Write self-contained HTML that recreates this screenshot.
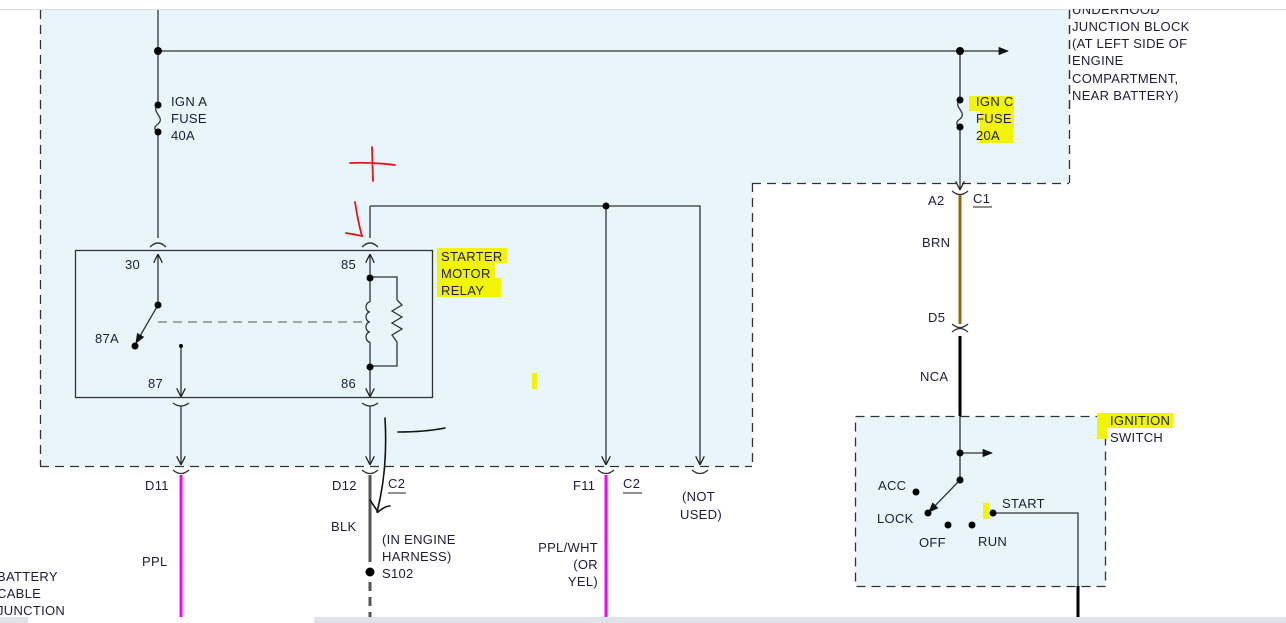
<!DOCTYPE html>
<html><head><meta charset="utf-8"><style>
html,body{margin:0;padding:0;background:#fff;width:1286px;height:623px;overflow:hidden}
svg{display:block}
text{font-family:"Liberation Sans",sans-serif;font-size:13px;fill:#1c1c38;letter-spacing:0.3px}
</style></head><body>
<svg width="1286" height="623" viewBox="0 0 1286 623" xmlns="http://www.w3.org/2000/svg">
<defs>
<marker id="ah" viewBox="0 0 10 10" refX="9" refY="5" markerWidth="7" markerHeight="7" orient="auto"><path d="M0,0 L10,5 L0,10" fill="none" stroke="#222" stroke-width="1.4"/></marker>
<marker id="af" viewBox="0 0 10 10" refX="9" refY="5" markerWidth="8" markerHeight="8" orient="auto"><path d="M0,1 L10,5 L0,9z" fill="#111"/></marker>
</defs>
<!-- top border -->
<line x1="0" y1="9.5" x2="1286" y2="9.5" stroke="#d8dde2" stroke-width="1"/>
<!-- blue region -->
<polygon points="40,10 1069,10 1069,183 752,183 752,466 40,466" fill="#e8f6fc"/>
<g stroke="#333" stroke-width="1.3" stroke-dasharray="9,6" fill="none">
<line x1="40.5" y1="10" x2="40.5" y2="466"/>
<line x1="40" y1="466.5" x2="752" y2="466.5"/>
<line x1="752.5" y1="183" x2="752.5" y2="466"/>
<line x1="752" y1="183.5" x2="1069" y2="183.5"/>
<line x1="1069.5" y1="10" x2="1069.5" y2="183"/>
<rect x="855.5" y="416.5" width="250" height="170" fill="#e8f6fc"/>
</g>
<!-- bottom bar -->
<rect x="0" y="617" width="1286" height="6" fill="#dfe3e8"/>
<rect x="28" y="617" width="286" height="6" fill="#fff"/>
<g stroke="#333" stroke-width="1.3" fill="none">
<!-- main vertical -->
<line x1="158" y1="10" x2="158" y2="105"/>
<path d="M158,105 C150,112 166,117 158,124 C152,128 156,131 158,132"/>
<line x1="158" y1="132" x2="158" y2="238"/>
<line x1="158" y1="51" x2="1008" y2="51" marker-end="url(#af)"/>
<!-- relay box -->
<rect x="75.5" y="250.5" width="357" height="147"/>
<path d="M150,247 Q158,239 166,247"/>
<path d="M362,247 Q370,239 378,247"/>
<line x1="158" y1="305" x2="158" y2="255" marker-end="url(#ah)"/>
<line x1="158" y1="305" x2="136" y2="343" marker-end="url(#af)"/>
<line x1="158" y1="322" x2="366" y2="322" stroke-dasharray="9,6" stroke="#555" stroke-width="1"/>
<line x1="181" y1="346" x2="181" y2="396" marker-end="url(#ah)"/>
<line x1="370" y1="206" x2="370" y2="238"/>
<line x1="370" y1="277" x2="370" y2="255" marker-end="url(#ah)"/>
<path d="M370,277 H397 V300 M397,342 V366 H370"/>
<path d="M397,300 L402,305 L392,311 L402,317 L392,323 L402,329 L392,335 L397,342"/>
<line x1="370" y1="277" x2="370" y2="302"/>
<path d="M370,302 a4,5 0 1 0 0,10 a4,5 0 1 0 0,10 a4,5 0 1 0 0,10 a4,5 0 1 0 0,10"/>
<line x1="370" y1="342" x2="370" y2="396" marker-end="url(#ah)"/>
<!-- cups under box -->
<path d="M173,403 Q181,409 189,403"/>
<path d="M362,403 Q370,409 378,403"/>
<line x1="181" y1="406" x2="181" y2="464" marker-end="url(#ah)"/>
<line x1="370" y1="406" x2="370" y2="464" marker-end="url(#ah)"/>
<!-- wire to F11 / not used -->
<path d="M370,206 H700 V464" marker-end="url(#ah)"/>
<line x1="606" y1="206" x2="606" y2="464" marker-end="url(#ah)"/>
<path d="M173,470 Q181,477 189,470"/>
<path d="M362,470 Q370,477 378,470"/>
<path d="M598,470 Q606,477 614,470"/>
<path d="M692,470 Q700,477 708,470"/>
<!-- right side -->
<line x1="960" y1="51" x2="960" y2="100"/>
<path d="M960,100 C952,107 968,112 960,119 C954,123 958,126 960,127"/>
<line x1="960" y1="127" x2="960" y2="189" marker-end="url(#ah)"/>
<path d="M952,191 Q960,198 968,191"/>
<path d="M952,324 Q960,331 968,324"/>
<path d="M952,332 Q960,325 968,332"/>
<line x1="1110" y1="425" x2="1110" y2="425"/>
<!-- ignition -->
<line x1="960" y1="416" x2="960" y2="480"/>
<line x1="960" y1="453" x2="992" y2="453" marker-end="url(#af)"/>
<line x1="960" y1="480" x2="929" y2="512" marker-end="url(#af)"/>
<path d="M993,513 H1078 V586"/>
</g>
<!-- colored wires -->
<line x1="181" y1="475" x2="181" y2="617" stroke="#ff00ff" stroke-width="3"/>
<line x1="606" y1="475" x2="606" y2="617" stroke="#ff00ff" stroke-width="3"/>
<line x1="370" y1="475" x2="370" y2="562" stroke="#555" stroke-width="3"/>
<line x1="370" y1="582" x2="370" y2="617" stroke="#555" stroke-width="3" stroke-dasharray="9,6"/>
<line x1="960" y1="195" x2="960" y2="324" stroke="#8b6a14" stroke-width="3"/>
<line x1="960" y1="336" x2="960" y2="416" stroke="#000" stroke-width="3"/>
<line x1="1078" y1="586" x2="1078" y2="617" stroke="#000" stroke-width="3"/>
<!-- dots -->
<g fill="#000">
<circle cx="158" cy="51" r="4"/><circle cx="960" cy="51" r="4"/>
<circle cx="158" cy="105" r="3.5"/><circle cx="158" cy="132" r="3.5"/>
<circle cx="960" cy="100" r="3.5"/><circle cx="960" cy="127" r="3.5"/>
<circle cx="158" cy="305" r="3.5"/><circle cx="135" cy="346" r="3.5"/>
<circle cx="181" cy="346" r="2"/>
<circle cx="370" cy="278" r="3.5"/><circle cx="370" cy="367" r="3.5"/>
<circle cx="606" cy="206" r="3.5"/><circle cx="370" cy="572" r="4.5"/>
<circle cx="960" cy="453" r="3.5"/><circle cx="960" cy="480" r="3.5"/>
<circle cx="928" cy="513" r="3.5"/><circle cx="916" cy="492" r="3.5"/>
<circle cx="948" cy="525" r="3.5"/><circle cx="972" cy="525" r="3.5"/>
<circle cx="993" cy="513" r="3.5"/>
</g>
<!-- highlights -->
<g fill="#f2f500">
<rect x="437" y="248" width="70" height="15"/><rect x="437" y="263" width="58" height="15"/><rect x="437" y="278" width="64" height="19"/>
<rect x="969" y="96" width="45" height="15"/><rect x="980" y="111" width="34" height="18"/><rect x="980" y="127" width="33" height="16"/>
<rect x="1097" y="413" width="76" height="15"/><rect x="1097" y="424" width="10" height="15"/>
<rect x="532" y="373" width="5" height="16"/><rect x="983" y="503" width="6" height="16"/>
</g>
<!-- text -->
<text x="171" y="106">IGN A</text><text x="171" y="123">FUSE</text><text x="171" y="140">40A</text>
<text x="976" y="106">IGN C</text><text x="976" y="123">FUSE</text><text x="976" y="140">20A</text>
<text x="441" y="261">STARTER</text><text x="441" y="278">MOTOR</text><text x="441" y="295">RELAY</text>
<text x="125" y="269">30</text><text x="341" y="269">85</text>
<text x="95" y="343">87A</text><text x="148" y="388">87</text><text x="341" y="388">86</text>
<text x="145" y="490">D11</text><text x="332" y="490">D12</text>
<text x="388" y="488">C2</text><line x1="388" y1="493" x2="406" y2="493" stroke="#222"/>
<text x="573" y="490">F11</text>
<text x="623" y="488">C2</text><line x1="623" y1="493" x2="642" y2="493" stroke="#222"/>
<text x="682" y="501">(NOT</text><text x="680" y="519">USED)</text>
<text x="331" y="531">BLK</text><text x="142" y="566">PPL</text>
<text x="382" y="544">(IN ENGINE</text><text x="382" y="561">HARNESS)</text><text x="382" y="578">S102</text>
<text x="598" y="552" text-anchor="end">PPL/WHT</text><text x="598" y="569" text-anchor="end">(OR</text><text x="598" y="586" text-anchor="end">YEL)</text>
<text x="-3" y="581">BATTERY</text><text x="-3" y="598">CABLE</text><text x="-3" y="615">JUNCTION</text>
<text x="928" y="205">A2</text>
<text x="973" y="203">C1</text><line x1="973" y1="207" x2="992" y2="207" stroke="#222"/>
<text x="922" y="247">BRN</text><text x="928" y="322">D5</text><text x="920" y="381">NCA</text>
<text x="1072" y="14">UNDERHOOD</text>
<text x="1072" y="31">JUNCTION BLOCK</text><text x="1072" y="48">(AT LEFT SIDE OF</text>
<text x="1072" y="65">ENGINE</text><text x="1072" y="83">COMPARTMENT,</text><text x="1072" y="100">NEAR BATTERY)</text>
<rect x="1070" y="0" width="150" height="9" fill="#fff"/>
<line x1="1069.5" y1="10" x2="1069.5" y2="110" stroke="#333" stroke-width="1.3" stroke-dasharray="9,6"/>
<text x="1110" y="425">IGNITION</text><text x="1110" y="442">SWITCH</text>
<text x="878" y="490">ACC</text><text x="877" y="523">LOCK</text><text x="919" y="547">OFF</text>
<text x="978" y="546">RUN</text><text x="1002" y="508">START</text>
<!-- annotations -->
<g fill="none" stroke-linecap="round">
<path d="M350,163 Q372,162 395,165 M372,147 L373,181" stroke="#e8101a" stroke-width="1.8"/>
<path d="M355,202 Q358,222 362,236 L346,233" stroke="#e8101a" stroke-width="1.8"/>
<path d="M385,418 Q388,470 377,512 M370,500 L378,512 Q385,506 390,506" stroke="#111" stroke-width="1.6"/>
<path d="M398,432 Q425,432 445,428" stroke="#111" stroke-width="1.6"/>
</g>
</svg>
</body></html>
